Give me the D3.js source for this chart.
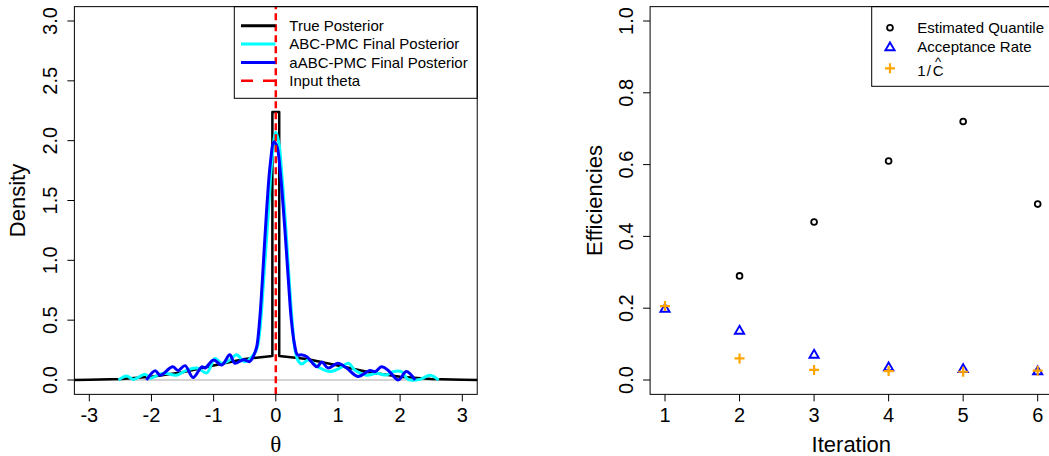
<!DOCTYPE html>
<html>
<head>
<meta charset="utf-8">
<script src="https://cdn.jsdelivr.net/npm/d3@7"></script>
<style>
  html, body { margin: 0; padding: 0; background: #fff; }
  svg { display: block; }
  text { font-family: "Liberation Sans", Arial, sans-serif; fill: #000; }
</style>
</head>
<body>
<svg id="chart" width="1049" height="456"></svg>
<script>
// ---------- Data ----------
const thetaTicks = [-3, -2, -1, 0, 1, 2, 3];
const densityTicks = [0, 0.5, 1, 1.5, 2, 2.5, 3];

const trueX = [-3.25, -3, -2.5, -2, -1.5, -1, -0.5, -0.055, -0.055, 0.055, 0.055, 0.5, 1, 1.5, 2, 2.5, 3, 3.25];
const trueY = [0.001, 0.002, 0.009, 0.027, 0.065, 0.121, 0.176, 0.2, 2.24, 2.24, 0.2, 0.176, 0.121, 0.065, 0.027, 0.009, 0.002, 0.001];

const abcX = [-2.53, -2.4, -2.29, -2.1, -2.02, -1.86, -1.76, -1.6, -1.43, -1.27, -1.11, -0.98, -0.87, -0.74, -0.63, -0.5, -0.36, -0.3, -0.25, -0.2, -0.12, -0.06, 0.0, 0.05, 0.1, 0.17, 0.22, 0.27, 0.31, 0.36, 0.42, 0.52, 0.68, 0.87, 1.03, 1.17, 1.27, 1.46, 1.62, 1.78, 1.89, 2.02, 2.13, 2.32, 2.48, 2.62];
const abcY = [0, 0.033, 0.005, 0.047, 0.015, 0.05, 0.055, 0.04, 0.083, 0.1, 0.06, 0.18, 0.14, 0.167, 0.21, 0.153, 0.21, 0.27, 0.45, 0.8, 1.4, 1.85, 2.07, 1.98, 1.7, 1.2, 0.8, 0.45, 0.25, 0.16, 0.134, 0.167, 0.11, 0.07, 0.1, 0.14, 0.083, 0.04, 0.056, 0.042, 0.07, 0.07, 0.005, 0.005, 0.04, 0];

const aabcX = [-2.08, -1.94, -1.86, -1.66, -1.57, -1.46, -1.33, -1.19, -1.14, -1.0, -0.87, -0.74, -0.66, -0.52, -0.42, -0.36, -0.31, -0.26, -0.22, -0.15, -0.09, -0.03, 0.02, 0.07, 0.14, 0.2, 0.25, 0.3, 0.35, 0.42, 0.5, 0.66, 0.74, 0.84, 1.0, 1.14, 1.32, 1.51, 1.6, 1.7, 1.81, 1.97, 2.1, 2.24];
const aabcY = [0, 0.078, 0.04, 0.11, 0.08, 0.12, 0.02, 0.11, 0.1, 0.167, 0.125, 0.21, 0.14, 0.17, 0.153, 0.2, 0.27, 0.5, 0.8, 1.4, 1.8, 1.99, 1.95, 1.75, 1.3, 0.85, 0.5, 0.3, 0.21, 0.21, 0.195, 0.11, 0.15, 0.1, 0.14, 0.1, 0.03, 0.08, 0.07, 0.11, 0.08, 0, 0.07, 0];

const legendLeft = ["True Posterior", "ABC-PMC Final Posterior", "aABC-PMC Final Posterior", "Input theta"];

const iterations = [1, 2, 3, 4, 5, 6];
const effTicks = [0, 0.2, 0.4, 0.6, 0.8, 1.0];
const quantile = [null, 0.29, 0.44, 0.61, 0.72, 0.49];
const acceptance = [0.2, 0.139, 0.072, 0.037, 0.032, 0.026];
const invC = [0.206, 0.06, 0.028, 0.025, 0.023, 0.026];
const legendRight = ["Estimated Quantile", "Acceptance Rate"];

// ---------- Setup ----------
const svg = d3.select("#chart");
const fmt = d3.format(".1f");
const intFmt = t => String(t);

function drawAxes(g, x, y, xTicks, yTicks, xFmt, yFmt, box, yLabelX) {
  g.append("rect")
    .attr("x", box.x0).attr("y", box.y0)
    .attr("width", box.x1 - box.x0).attr("height", box.y1 - box.y0)
    .attr("fill", "none").attr("stroke", "#000").attr("stroke-width", 1);
  xTicks.forEach(t => {
    g.append("line").attr("x1", x(t)).attr("x2", x(t))
      .attr("y1", box.y1).attr("y2", box.y1 + 7)
      .attr("stroke", "#000").attr("stroke-width", 1);
    g.append("text").attr("x", x(t)).attr("y", 421.5)
      .attr("text-anchor", "middle").style("font-size", "20px").text(xFmt(t));
  });
  yTicks.forEach(t => {
    g.append("line").attr("x1", box.x0 - 7).attr("x2", box.x0)
      .attr("y1", y(t)).attr("y2", y(t))
      .attr("stroke", "#000").attr("stroke-width", 1);
    g.append("text")
      .attr("transform", `translate(${yLabelX},${y(t)}) rotate(-90)`)
      .attr("text-anchor", "middle").style("font-size", "20px").text(yFmt(t));
  });
}

// ---------- Left panel ----------
const xL = d3.scaleLinear().domain([-3, 3]).range([89.3, 462.3]);
const yL = d3.scaleLinear().domain([0, 3]).range([380, 21]);
const boxL = { x0: xL(-3.24), x1: xL(3.24), y0: yL(3.12), y1: yL(-0.12) };

const gL = svg.append("g");
svg.append("clipPath").attr("id", "clipL").append("rect")
  .attr("x", boxL.x0).attr("y", boxL.y0)
  .attr("width", boxL.x1 - boxL.x0).attr("height", boxL.y1 - boxL.y0);
const pL = gL.append("g").attr("clip-path", "url(#clipL)");

pL.append("line").attr("x1", boxL.x0).attr("x2", boxL.x1)
  .attr("y1", yL(0)).attr("y2", yL(0))
  .attr("stroke", "#d3d3d3").attr("stroke-width", 2);

const lineLin = d3.line().x(d => xL(d[0])).y(d => yL(d[1]));
const lineSmooth = d3.line().x(d => xL(d[0])).y(d => yL(d[1])).curve(d3.curveCatmullRom.alpha(0.5));

pL.append("path").datum(d3.zip(trueX, trueY)).attr("d", lineLin)
  .attr("fill", "none").attr("stroke", "#000").attr("stroke-width", 2.5).attr("stroke-linejoin", "round");
pL.append("path").datum(d3.zip(abcX, abcY)).attr("d", lineSmooth)
  .attr("fill", "none").attr("stroke", "#00ffff").attr("stroke-width", 3);
pL.append("path").datum(d3.zip(aabcX, aabcY)).attr("d", lineSmooth)
  .attr("fill", "none").attr("stroke", "#0000ff").attr("stroke-width", 3);

drawAxes(gL, xL, yL, thetaTicks, densityTicks, intFmt, fmt, boxL, 57.3);

// legend (left)
const legL = gL.append("g");
legL.append("rect").attr("x", 234.3).attr("y", boxL.y0)
  .attr("width", boxL.x1 - 234.3).attr("height", 98.3 - boxL.y0)
  .attr("fill", "none").attr("stroke", "#000").attr("stroke-width", 1);
const legColors = ["#000", "#00ffff", "#0000ff", "#ff0000"];
legendLeft.forEach((lab, i) => {
  const base = 31 + i * 18.35;
  const ln = legL.append("line").attr("x1", 241).attr("x2", 275.5)
    .attr("y1", base - 5.3).attr("y2", base - 5.3)
    .attr("stroke", legColors[i]).attr("stroke-width", i === 3 ? 2.5 : 3);
  if (i === 3) ln.attr("stroke-dasharray", "12,10");
  legL.append("text").attr("x", 289.3).attr("y", base)
    .style("font-size", "15px").text(lab);
});

// red dashed vertical line at input theta (abline)
pL.append("line").attr("x1", xL(0)).attr("x2", xL(0))
  .attr("y1", boxL.y1).attr("y2", boxL.y0)
  .attr("stroke", "#ff0000").attr("stroke-width", 2.5).attr("stroke-dasharray", "7,4");

// axis titles
gL.append("text").attr("transform", `translate(25,${yL(1.5)}) rotate(-90)`)
  .attr("text-anchor", "middle").style("font-size", "22px").text("Density");
gL.append("text").attr("x", xL(0)).attr("y", 452)
  .attr("text-anchor", "middle")
  .style("font-family", "'Liberation Serif', 'DejaVu Serif', serif")
  .style("font-size", "23px").text("θ");

// ---------- Right panel ----------
const xR = d3.scaleLinear().domain([1, 6]).range([665, 1037.7]);
const yR = d3.scaleLinear().domain([0, 1]).range([380, 21]);
const boxR = { x0: xR(0.8), x1: xR(6.2), y0: yR(1.04), y1: yR(-0.04) };
const gR = svg.append("g");

drawAxes(gR, xR, yR, iterations, effTicks, intFmt, fmt, boxR, 632.7);

gR.selectAll("circle.q").data(iterations.map((it, i) => [it, quantile[i]]).filter(d => d[1] != null))
  .enter().append("circle")
  .attr("cx", d => xR(d[0])).attr("cy", d => yR(d[1])).attr("r", 2.9)
  .attr("fill", "none").attr("stroke", "#000").attr("stroke-width", 1.8);

const tri = (cx, cy) => `M${cx},${cy - 4.3}L${cx + 4.6},${cy + 3.6}L${cx - 4.6},${cy + 3.6}Z`;
gR.selectAll("path.a").data(iterations.map((it, i) => [it, acceptance[i]]))
  .enter().append("path")
  .attr("d", d => tri(xR(d[0]), yR(d[1])))
  .attr("fill", "none").attr("stroke", "#0000ff").attr("stroke-width", 1.9).attr("stroke-linejoin", "miter");

const plus = (cx, cy) => `M${cx - 5},${cy}H${cx + 5}M${cx},${cy - 5}V${cy + 5}`;
gR.selectAll("path.c").data(iterations.map((it, i) => [it, invC[i]]))
  .enter().append("path")
  .attr("d", d => plus(xR(d[0]), yR(d[1])))
  .attr("fill", "none").attr("stroke", "#ffa500").attr("stroke-width", 2.2);

// legend (right)
const legR = gR.append("g");
legR.append("rect").attr("x", 871.7).attr("y", boxR.y0)
  .attr("width", boxR.x1 - 871.7).attr("height", 86.3 - boxR.y0)
  .attr("fill", "none").attr("stroke", "#000").attr("stroke-width", 1);
legR.append("circle").attr("cx", 890).attr("cy", 27.7).attr("r", 2.9)
  .attr("fill", "none").attr("stroke", "#000").attr("stroke-width", 1.8);
legR.append("path").attr("d", tri(890, 46.7))
  .attr("fill", "none").attr("stroke", "#0000ff").attr("stroke-width", 1.9);
legR.append("path").attr("d", plus(890, 68.3))
  .attr("fill", "none").attr("stroke", "#ffa500").attr("stroke-width", 2.2);
legR.append("text").attr("x", 917.3).attr("y", 33.3).style("font-size", "15px").text(legendRight[0]);
legR.append("text").attr("x", 917.3).attr("y", 51.6).style("font-size", "15px").text(legendRight[1]);
const t3 = legR.append("text").attr("x", 917.3).attr("y", 76).style("font-size", "15px");
t3.append("tspan").text("1");
t3.append("tspan").attr("dx", 1).text("/");
t3.append("tspan").attr("dx", 2).text("C");
t3.append("tspan").attr("dx", -8.6).attr("dy", -9.6).style("font-size", "13px").text("^");

// axis titles
gR.append("text").attr("transform", `translate(601.5,${yR(0.5)}) rotate(-90)`)
  .attr("text-anchor", "middle").style("font-size", "22px").text("Efficiencies");
gR.append("text").attr("x", xR(3.5)).attr("y", 451.7)
  .attr("text-anchor", "middle").style("font-size", "22px").text("Iteration");
</script>
</body>
</html>
